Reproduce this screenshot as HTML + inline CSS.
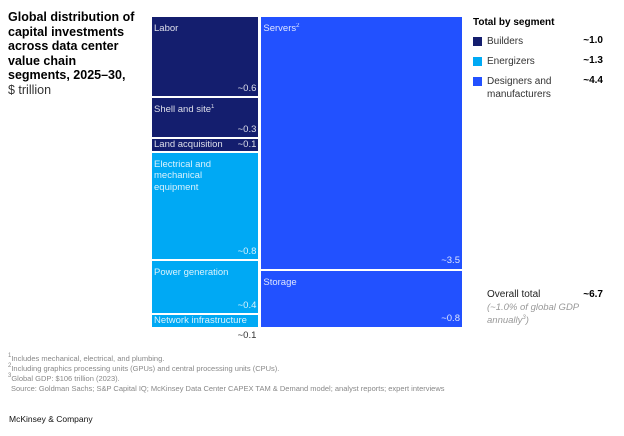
<!DOCTYPE html>
<html><head><meta charset="utf-8"><style>
body{margin:0;width:624px;height:436px;background:#fff;font-family:"Liberation Sans",sans-serif;position:relative;overflow:hidden}
sup{line-height:0;vertical-align:4px;font-size:6px}
.a{position:absolute;white-space:nowrap}
.title{left:8px;top:10px;font-size:12.5px;line-height:14.5px;font-weight:bold;color:#000}
.tile{position:absolute;box-sizing:border-box}
.tl{position:absolute;font-size:9.5px;line-height:11.5px;color:#fff;opacity:.85;white-space:nowrap}
.fn{left:8px;font-size:7.5px;line-height:9px;color:#888}
</style></head><body>
<div class="a title">Global distribution of<br>capital investments<br>across data center<br>value chain<br>segments, 2025–30,<br><span style="font-weight:normal;color:#333">$ trillion</span></div>
<div id="tm"></div>

<div class="a" style="left:473px;top:17px;font-size:10px;font-weight:bold">Total by segment</div>
<div id="legend"></div>

<div class="a" style="left:487px;top:289px;font-size:10px;color:#222">Overall total</div>
<div class="a" style="left:580px;top:289px;width:23px;text-align:right;font-size:10px;font-weight:bold">~6.7</div>
<div class="a" style="left:487px;top:302px;font-size:9.5px;line-height:12.5px;color:#999;font-style:italic">(~1.0% of global GDP<br>annually<sup>3</sup>)</div>

<div class="a fn" style="top:354px"><sup>1</sup>Includes mechanical, electrical, and plumbing.</div>
<div class="a fn" style="top:364px"><sup>2</sup>Including graphics processing units (GPUs) and central processing units (CPUs).</div>
<div class="a fn" style="top:374px"><sup>3</sup>Global GDP: $106 trillion (2023).</div>
<div class="a fn" style="top:384px;left:11px">Source: Goldman Sachs; S&amp;P Capital IQ; McKinsey Data Center CAPEX TAM &amp; Demand model; analyst reports; expert interviews</div>
<div class="a" style="left:9px;top:414px;font-size:8.5px;color:#111">McKinsey &amp; Company</div>

<script>
const leftNames=["Labor","Shell and site<sup>1</sup>","Land acquisition","Electrical and<br>mechanical<br>equipment","Power generation","Network infrastructure"];
const leftValues=[0.6,0.3,0.1,0.8,0.4,0.1];
const leftSeg=[0,0,0,1,1,1];
const rightNames=["Servers<sup>2</sup>","Storage"];
const rightValues=[3.5,0.8];
const rightSeg=[2,2];
const segNames=["Builders","Energizers","Designers and<br>manufacturers"];
const segTotals=[1.0,1.3,4.4];
const colors=["#141e6e","#00a9f4","#2251ff"];

const X0=151,Y0=16,W=311,H=312;
const tm=document.getElementById('tm');
const sum=a=>a.reduce((s,v)=>s+v,0);
const lt=sum(leftValues),rt=sum(rightValues);
const lw=W*lt/(lt+rt);
function column(names,vals,segs,x,w){
  const tot=sum(vals);let y=Y0;
  vals.forEach((v,i)=>{
    const h=H*v/tot;
    const d=document.createElement('div');
    
    
    d.className='tile';
    d.style.cssText=`left:${x}px;top:${y}px;width:${w}px;height:${h}px;background:${colors[segs[i]]};border:1px solid #fff;`;
    const lab=document.createElement('div');lab.className='tl';
    
    
    lab.innerHTML=names[i];
    const val=document.createElement('div');val.className='tl';
    
    
    val.textContent='~'+v.toFixed(1);
    if(h<20){
      lab.style.cssText+='left:2px;top:0px;';
      if(i==vals.length-1){val.style.cssText+=`right:2px;top:${h+1}px;color:#333;opacity:1;`;}
      else val.style.cssText+='right:2px;top:0px;';
    }else{
      lab.style.cssText+='left:2px;top:6px;';
      val.style.cssText+='right:2px;bottom:2px;';
    }
    d.appendChild(lab);d.appendChild(val);tm.appendChild(d);
    y+=h;
  });
}
column(leftNames,leftValues,leftSeg,X0,lw);
column(rightNames,rightValues,rightSeg,X0+lw+1,W-lw);

const lg=document.getElementById('legend');
segNames.forEach((n,i)=>{
  const y=36+i*20;
  const s=document.createElement('div');s.className='a';
  
  
  s.style.cssText=`left:473px;top:${y+1}px;width:9px;height:9px;background:${colors[i]}`;
  const t=document.createElement('div');t.className='a';
  
  
  t.style.cssText=`left:487px;top:${y-1}px;font-size:10px;line-height:13px;color:#333`;
  t.innerHTML=n;
  const v=document.createElement('div');v.className='a';
  
  
  v.style.cssText=`left:570px;width:33px;text-align:right;top:${y-1}px;font-size:10px;font-weight:bold`;
  v.textContent='~'+segTotals[i].toFixed(1);
  lg.appendChild(s);lg.appendChild(t);lg.appendChild(v);
});
</script>
</body></html>
